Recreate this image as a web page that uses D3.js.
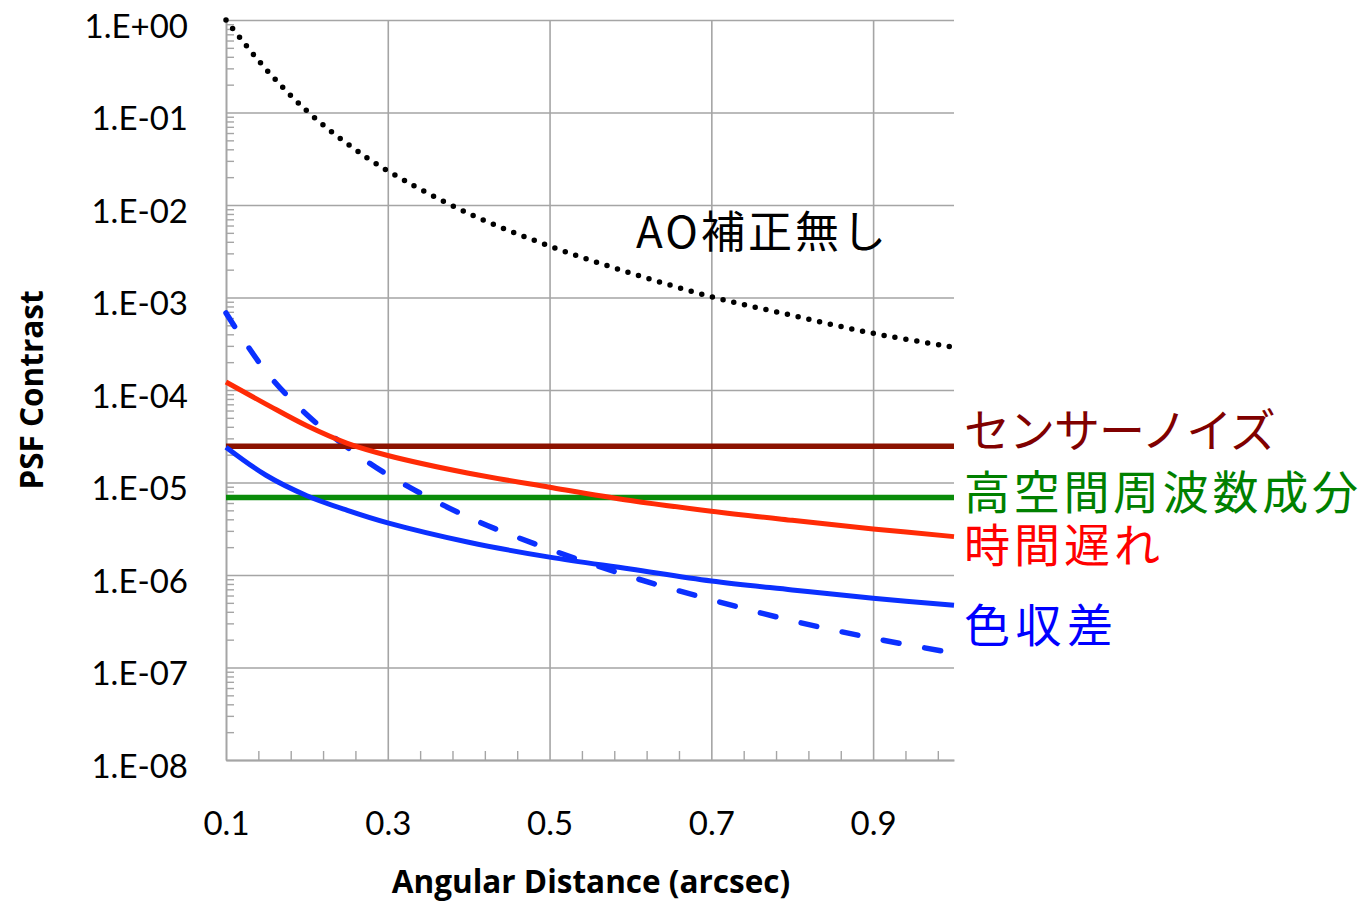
<!doctype html>
<html lang="ja">
  <head>
    <meta charset="UTF-8" />
    <title>PSF Contrast vs Angular Distance</title>
    <script src="https://d3js.org/d3.v7.min.js"></script>
    <style>
      body {
        margin: 0;
        background: #fff;
      }
      .tick-label {
        font-family: Lato, 'Open Sans', sans-serif;
        font-size: 33px;
        fill: #000;
      }
      .axis-title {
        font-family: 'Open Sans', sans-serif;
        font-weight: bold;
        font-size: 31.5px;
        fill: #000;
      }
      .note {
        font-family: 'Noto Sans CJK JP', sans-serif;
      }
    </style>
  </head>
  <body>
    <svg width="1367" height="903"></svg>
    <script>
      // values
      const distance = [0.1, 0.15, 0.2, 0.25, 0.3, 0.4, 0.5, 0.6, 0.7, 0.8, 0.9, 1.0];
      const noAO = [1.0, 0.29, 0.104, 0.046, 0.0234, 0.0081, 0.0036, 0.00184, 0.00102, 0.00064, 0.00041, 0.00029];
      const chromaticDashed = [6.8e-4, 1.56e-4, 5.4e-5, 2.4e-5, 1.21e-5, 4.2e-6, 1.9e-6, 9.6e-7, 5.4e-7, 3.2e-7, 2.07e-7, 1.43e-7];
      const sensorNoise = [2.47e-5, 2.47e-5, 2.47e-5, 2.47e-5, 2.47e-5, 2.47e-5, 2.47e-5, 2.47e-5, 2.47e-5, 2.47e-5, 2.47e-5, 2.47e-5];
      const highSpatialFreq = [6.9e-6, 6.9e-6, 6.9e-6, 6.9e-6, 6.9e-6, 6.9e-6, 6.9e-6, 6.9e-6, 6.9e-6, 6.9e-6, 6.9e-6, 6.9e-6];
      const chromatic = [2.41e-5, 1.19e-5, 7.2e-6, 5.0e-6, 3.66e-6, 2.26e-6, 1.56e-6, 1.16e-6, 8.6e-7, 6.9e-7, 5.6e-7, 4.7e-7];
      const timeDelay = [1.22e-4, 7.0e-5, 4.1e-5, 2.65e-5, 1.96e-5, 1.26e-5, 8.9e-6, 6.4e-6, 4.9e-6, 3.9e-6, 3.15e-6, 2.6e-6];

      const yTicks = [1e0, 1e-1, 1e-2, 1e-3, 1e-4, 1e-5, 1e-6, 1e-7, 1e-8];
      const yTickLabels = ['1.E+00', '1.E-01', '1.E-02', '1.E-03', '1.E-04', '1.E-05', '1.E-06', '1.E-07', '1.E-08'];
      const xTicks = [0.1, 0.3, 0.5, 0.7, 0.9];
      const xTickLabels = ['0.1', '0.3', '0.5', '0.7', '0.9'];
      const xMinorTicks = [0.14, 0.18, 0.22, 0.26, 0.34, 0.38, 0.42, 0.46, 0.54, 0.58, 0.62, 0.66, 0.74, 0.78, 0.82, 0.86, 0.94, 0.98];

      const margin = { top: 20, right: 413, bottom: 143, left: 226 };
      const width = 1367 - margin.left - margin.right;
      const height = 903 - margin.top - margin.bottom;
      const svg = d3.select('svg');
      const grey = '#a5a5a5';

      const x = d3.scaleLinear().domain([0.1, 1.0]).range([margin.left, margin.left + width]);
      const y = d3.scaleLog().domain([1e-8, 1]).range([margin.top + height, margin.top]);

      // minor log ticks 2..9 for every decade
      const yMinorTicks = [];
      yTicks.slice(1).forEach((t) => {
        for (let k = 2; k <= 9; k++) yMinorTicks.push(t * k);
      });

      // horizontal grid
      svg
        .append('g')
        .attr('transform', `translate(${margin.left},0)`)
        .call(d3.axisLeft(y).tickValues(yTicks).tickSize(-width).tickFormat(''))
        .call((g) => g.select('.domain').remove())
        .selectAll('line')
        .attr('stroke', grey)
        .attr('stroke-width', 1.6);

      // vertical grid
      svg
        .append('g')
        .attr('transform', `translate(0,${margin.top + height})`)
        .call(d3.axisBottom(x).tickValues(xTicks.slice(1)).tickSize(-height).tickFormat(''))
        .call((g) => g.select('.domain').remove())
        .selectAll('line')
        .attr('stroke', grey)
        .attr('stroke-width', 1.6);

      // minor ticks
      svg
        .append('g')
        .attr('transform', `translate(${margin.left},0)`)
        .call(d3.axisLeft(y).tickValues(yMinorTicks).tickSize(-8).tickFormat(''))
        .call((g) => g.select('.domain').remove())
        .selectAll('line')
        .attr('stroke', grey)
        .attr('stroke-width', 1.4);

      svg
        .append('g')
        .attr('transform', `translate(0,${margin.top + height})`)
        .call(d3.axisBottom(x).tickValues(xMinorTicks).tickSize(-9).tickFormat(''))
        .call((g) => g.select('.domain').remove())
        .selectAll('line')
        .attr('stroke', grey)
        .attr('stroke-width', 1.4);

      // y axis with labels
      const yAxis = svg
        .append('g')
        .attr('transform', `translate(${margin.left},0)`)
        .call(
          d3
            .axisLeft(y)
            .tickValues(yTicks)
            .tickSize(0)
            .tickPadding(38)
            .tickFormat((d, i) => yTickLabels[i]),
        );
      yAxis.select('.domain').attr('stroke', grey).attr('stroke-width', 2);
      yAxis
        .selectAll('text')
        .attr('class', 'tick-label')
        .attr('dy', 17);

      // x axis with labels
      const xAxis = svg
        .append('g')
        .attr('transform', `translate(0,${margin.top + height})`)
        .call(
          d3
            .axisBottom(x)
            .tickValues(xTicks)
            .tickSize(0)
            .tickFormat((d, i) => xTickLabels[i]),
        );
      xAxis.select('.domain').attr('stroke', grey).attr('stroke-width', 2);
      xAxis
        .selectAll('text')
        .attr('class', 'tick-label')
        .attr('y', 75)
        .attr('dy', 0);

      // the axis helpers set their own font attributes, let css win
      svg.selectAll('.tick-label').attr('font-family', null).attr('font-size', null);
      svg.selectAll('g').attr('font-family', null).attr('font-size', null);

      // axis titles
      svg
        .append('text')
        .attr('class', 'axis-title')
        .attr('transform', `translate(43,${margin.top + height / 2}) rotate(-90)`)
        .attr('text-anchor', 'middle')
        .text('PSF Contrast');

      svg
        .append('text')
        .attr('class', 'axis-title')
        .attr('x', 591)
        .attr('y', 893)
        .attr('text-anchor', 'middle')
        .text('Angular Distance (arcsec)');

      // curves
      const line = d3
        .line()
        .x((d) => x(d[0]))
        .y((d) => y(d[1]))
        .curve(d3.curveCatmullRom.alpha(0.5));

      const series = [
        { values: noAO, color: '#000', width: 5.5, dash: '0 11', cap: 'round' },
        { values: chromaticDashed, color: '#0b30ff', width: 5.5, dash: '16 26', cap: 'round' },
        { values: sensorNoise, color: '#8b1200', width: 5.5 },
        { values: highSpatialFreq, color: '#0a8c0a', width: 5.5 },
        { values: chromatic, color: '#0b30ff', width: 5 },
        { values: timeDelay, color: '#ff2b06', width: 5 },
      ];

      series.forEach((s) => {
        svg
          .append('path')
          .datum(distance.map((d, i) => [d, s.values[i]]))
          .attr('fill', 'none')
          .attr('stroke', s.color)
          .attr('stroke-width', s.width)
          .attr('stroke-dasharray', s.dash || null)
          .attr('stroke-linecap', s.cap || 'butt')
          .attr('d', line);
      });

      // labels
      svg
        .append('text')
        .attr('class', 'note')
        .attr('x', 636)
        .attr('y', 248)
        .style('font-size', '44px')
        .style('letter-spacing', '3px')
        .attr('fill', '#000')
        .text('AO補正無し');

      const notes = [
        { text: 'センサーノイズ', y: 447, color: '#800000', spacing: '-1px' },
        { text: '高空間周波数成分', y: 509, color: '#008000', spacing: '3.7px' },
        { text: '時間遅れ', y: 562, color: '#ff0000', spacing: '4px' },
        { text: '色収差', y: 642, color: '#0000ff', spacing: '5.5px' },
      ];

      svg
        .selectAll('.side-note')
        .data(notes)
        .enter()
        .append('text')
        .attr('class', 'note side-note')
        .attr('x', 964)
        .attr('y', (d) => d.y)
        .style('font-size', '46px')
        .style('letter-spacing', (d) => d.spacing)
        .attr('fill', (d) => d.color)
        .text((d) => d.text);
    </script>
  </body>
</html>
